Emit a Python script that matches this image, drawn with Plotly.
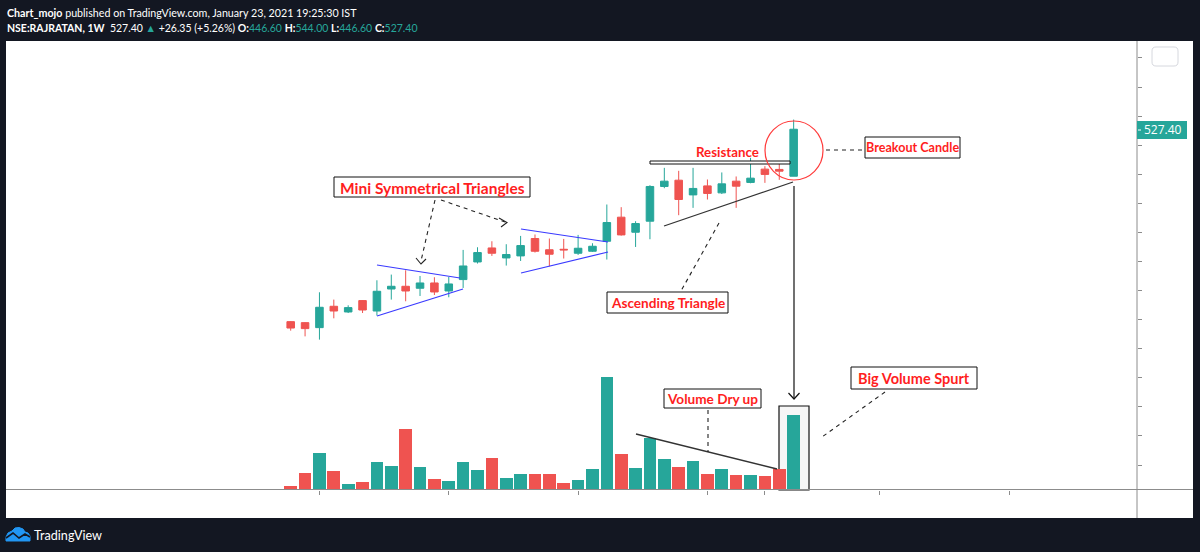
import plotly.graph_objects as go
import pandas as pd

W, H = 1200, 552

# ---------------- data ----------------
week_start = "2020-05-18"
n_weeks = 36
dates = pd.date_range(week_start, periods=n_weeks, freq="7D")

opens = [196.6, 194.9, 186.3, 223.0, 213.2, 232.8, 214.9, 252.7, 257.4, 254.0,
         263.1, 249.3, 268.9, 299.2, 323.3, 306.1, 309.6, 339.5, 320.2, 321.0,
         314.2, 317.6, 334.8, 376.2, 350.3, 369.3, 429.0, 439.8, 414.5, 430.0,
         418.0, 438.1, 435.9, 458.8, 458.3, 446.6]
highs = [197.5, 195.5, 247.1, 234.5, 224.7, 233.5, 267.7, 277.5, 284.9, 275.1,
         272.9, 273.4, 319.9, 324.5, 334.8, 329.7, 344.0, 346.4, 339.5, 338.8,
         345.7, 331.4, 398.0, 393.4, 369.3, 431.2, 461.0, 455.9, 461.0, 441.0,
         453.1, 446.2, 478.2, 463.9, 470.8, 544.0]
lows = [181.1, 171.3, 165.7, 202.3, 211.4, 211.4, 207.0, 234.5, 231.6, 240.7,
        242.4, 238.5, 254.5, 296.5, 309.6, 293.0, 300.9, 315.4, 291.8, 305.1,
        311.3, 316.4, 303.4, 344.5, 325.0, 338.3, 426.0, 379.6, 392.2, 406.6,
        416.0, 392.2, 434.5, 435.2, 440.4, 446.6]
closes = [185.6, 184.6, 221.3, 214.9, 220.7, 216.6, 248.8, 257.4, 249.3, 263.1,
          247.6, 261.4, 292.3, 315.4, 314.2, 312.0, 327.4, 317.6, 312.5, 320.0,
          322.8, 326.2, 367.0, 345.7, 365.3, 429.0, 438.1, 406.6, 425.6, 417.0,
          433.5, 429.5, 443.3, 449.7, 455.3, 527.4]
volumes = [8, 32, 72, 36, 10, 15, 55, 47, 121, 44,
           21, 17, 55, 39, 63, 23, 31, 31, 31, 12,
           18, 41, 225, 70, 42, 103, 61, 44, 57, 31,
           41, 29, 29, 27, 41, 149]

time_ticks = ["2020-06-01", "2020-08-03", "2020-10-05", "2020-12-07",
              "2021-01-04", "2021-03-01", "2021-05-03"]

last_price = "527.40"

UP = "#26a69a"
DOWN = "#ef5350"
RED_TXT = "#ff1e1e"
BLUE = "#3a3aff"
AXC = "#8c8c8c"

# ---------------- helpers (pixel -> paper) ----------------
def fx(x):
    return x / W


def fy(y):
    return 1 - y / H


def line(x0, y0, x1, y1, color="#222222", width=1.2, dash=None):
    d = dict(type="line", xref="paper", yref="paper",
             x0=fx(x0), y0=fy(y0), x1=fx(x1), y1=fy(y1),
             line=dict(color=color, width=width))
    if dash:
        d["line"]["dash"] = dash
    return d


def rect(x0, y0, x1, y1, fill="white", color="#111111", width=1, layer="above"):
    return dict(type="rect", xref="paper", yref="paper",
                x0=fx(x0), y0=fy(y0), x1=fx(x1), y1=fy(y1),
                fillcolor=fill, line=dict(color=color, width=width), layer=layer)


def path(points, color="#222222", width=1.2, fill=None, close=False):
    s = "M " + " L ".join(f"{fx(x):.5f},{fy(y):.5f}" for x, y in points)
    if close:
        s += " Z"
    d = dict(type="path", xref="paper", yref="paper", path=s,
             line=dict(color=color, width=width))
    if fill:
        d["fillcolor"] = fill
    return d


def text(x, y, s, size=13, color=RED_TXT, bold=True, anchor="center", family="Lato"):
    return dict(xref="paper", yref="paper", x=fx(x), y=fy(y), text=(f"<b>{s}</b>" if bold else s),
                showarrow=False, xanchor=anchor, yanchor="middle",
                font=dict(size=size, color=color, family=family))


vol_colors = [UP if c >= o else DOWN for o, c in zip(opens, closes)]

fig = go.Figure()
fig.add_trace(go.Bar(
    x=dates, y=volumes, yaxis="y2",
    marker=dict(color=vol_colors, line=dict(width=0)),
    width=7 * 86400000 * 0.88, hoverinfo="skip", showlegend=False))
fig.add_trace(go.Candlestick(
    x=dates, open=opens, high=highs, low=lows, close=closes,
    increasing=dict(line=dict(color=UP, width=1), fillcolor=UP),
    decreasing=dict(line=dict(color=DOWN, width=1), fillcolor=DOWN),
    whiskerwidth=0, showlegend=False))

# x range so that first candle sits at px 290.7, spacing 14.37 px/week
px_per_week = 14.37
first_px = 290.7
left_idx = (6 - first_px) / px_per_week
right_idx = (1137 - first_px) / px_per_week
x0 = dates[0] + pd.Timedelta(days=left_idx * 7)
x1 = dates[0] + pd.Timedelta(days=right_idx * 7)

shapes = []
# white chart canvas
shapes.append(rect(6, 41, 1193, 518, fill="white", color="white", width=0, layer="below"))
# highlight box around last volume bar
shapes.append(rect(779, 406, 809, 490, fill="#f6f6f6", color="#111111", width=1.2, layer="below"))
# axis separator lines
shapes.append(line(1137, 41, 1137, 518, color=AXC, width=1))
shapes.append(line(6, 489.5, 1193, 489.5, color=AXC, width=1))

# blue mini symmetrical triangles
shapes.append(line(377, 265, 460, 278, color=BLUE))
shapes.append(line(377, 316, 463, 289, color=BLUE))
shapes.append(line(521, 229, 608, 242, color=BLUE))
shapes.append(line(521, 273, 608, 252, color=BLUE))

# dashed pointers from mini-triangle label
shapes.append(line(435, 200, 421, 261, dash="4px,4px", width=1.1))
shapes.append(path([(416, 258), (421, 264), (426, 259)], width=1.1))
shapes.append(line(441, 200, 505, 222, dash="4px,4px", width=1.1))
shapes.append(path([(499, 218), (507, 222.5), (501, 227)], width=1.1))

# resistance double line
shapes.append(rect(650, 161, 790, 164, fill="white", color="#111111", width=1))
# ascending triangle support
shapes.append(line(664, 226, 793, 182, color="#333333", width=1.3))
shapes.append(line(719, 223, 681, 291, dash="4px,4px", width=1.1))

# breakout circle + pointer
shapes.append(dict(type="circle", xref="paper", yref="paper",
                   x0=fx(765), y0=fy(180), x1=fx(823), y1=fy(121),
                   line=dict(color="#ff3b3b", width=1.2)))
shapes.append(line(826, 150, 862, 150, dash="4px,4px", width=1.1))

# vertical arrow to volume
shapes.append(line(794, 186, 794, 398, color="#111111", width=1.2))
shapes.append(path([(788.5, 393), (794, 399), (799.5, 393)], color="#111111", width=1.2))

# volume dry-up line
shapes.append(line(636, 434, 777, 469, color="#333333", width=1.3))
shapes.append(line(708, 410, 708, 452, dash="4px,4px", width=1.1))
# big volume spurt pointer
shapes.append(line(885, 392, 822, 437, dash="4px,4px", width=1.1))

# label boxes
shapes.append(rect(334, 177, 530, 197))
shapes.append(rect(607, 292, 728, 313))
shapes.append(rect(865, 137, 960, 158))
shapes.append(rect(664, 389, 761, 408))
shapes.append(rect(851, 367, 977, 389))

# last price label on scale
shapes.append(rect(1137, 121, 1187, 139, fill=UP, color=UP, width=0))
shapes.append(line(1138, 130, 1141, 130, color="white", width=1))

# small rounded button top-right
r = 4
bx0, by0, bx1, by1 = 1152, 47, 1178, 66
btn = (f"M {fx(bx0 + r):.5f},{fy(by0):.5f} L {fx(bx1 - r):.5f},{fy(by0):.5f} "
       f"Q {fx(bx1):.5f},{fy(by0):.5f} {fx(bx1):.5f},{fy(by0 + r):.5f} "
       f"L {fx(bx1):.5f},{fy(by1 - r):.5f} Q {fx(bx1):.5f},{fy(by1):.5f} {fx(bx1 - r):.5f},{fy(by1):.5f} "
       f"L {fx(bx0 + r):.5f},{fy(by1):.5f} Q {fx(bx0):.5f},{fy(by1):.5f} {fx(bx0):.5f},{fy(by1 - r):.5f} "
       f"L {fx(bx0):.5f},{fy(by0 + r):.5f} Q {fx(bx0):.5f},{fy(by0):.5f} {fx(bx0 + r):.5f},{fy(by0):.5f} Z")
shapes.append(dict(type="path", xref="paper", yref="paper", path=btn,
                   line=dict(color="#d6d8de", width=1), fillcolor="white"))

# TradingView logo (approximation)
shapes.append(path([(6, 541), (6, 537), (8, 533), (12, 531), (15, 528), (19, 527.5),
                    (23, 529), (25, 532), (28, 533), (30, 536), (30, 541)],
                   color="#2196f3", width=1, fill="#2196f3", close=True))
shapes.append(path([(6, 538), (13, 533), (19, 538), (25, 534), (30, 537)],
                   color="#131722", width=1.6))

annotations = []
annotations.append(text(432, 187.5, "Mini Symmetrical Triangles", size=15.5))
annotations.append(text(727.5, 152, "Resistance", size=13.3))
annotations.append(text(912.5, 147.5, "Breakout Candle", size=12.6))
annotations.append(text(667.5, 302.5, "Ascending Triangle", size=13.6))
annotations.append(text(712.5, 398.5, "Volume Dry up", size=13.6))
annotations.append(text(914, 378, "Big Volume Spurt", size=14.5))
annotations.append(text(1163, 130, last_price, size=12, color="white", bold=False, family="Open Sans"))

HF = "Lato, Roboto, sans-serif"
annotations.append(text(5, 12.5,
                        "<b>Chart_mojo</b> published on TradingView.com, January 23, 2021 19:25:30 IST",
                        size=10.7, color="white", bold=False, anchor="left", family=HF))
T = "#26a69a"
annotations.append(text(5, 27.5,
                        "<b>NSE:RAJRATAN, 1W</b>  527.40 "
                        f"<span style='color:{T}'>▲</span> +26.35 (+5.26%) "
                        f"<b>O:</b><span style='color:{T}'>446.60</span> "
                        f"<b>H:</b><span style='color:{T}'>544.00</span> "
                        f"<b>L:</b><span style='color:{T}'>446.60</span> "
                        f"<b>C:</b><span style='color:{T}'>527.40</span>",
                        size=10.5, color="white", bold=False, anchor="left", family=HF))
annotations.append(text(32, 535, "TradingView", size=12.6, color="white", bold=False,
                        anchor="left", family="Lato"))

fig.update_layout(
    width=W, height=H,
    margin=dict(l=0, r=0, t=0, b=0),
    paper_bgcolor="#131722",
    plot_bgcolor="rgba(0,0,0,0)",
    showlegend=False,
    bargap=0,
    boxgap=0.25,
    xaxis=dict(domain=[fx(6), fx(1137)], range=[x0, x1], type="date",
               showgrid=False, zeroline=False, showline=False,
               showticklabels=False, ticks="outside", ticklen=4, tickwidth=1,
               tickcolor=AXC, tickmode="array", tickvals=time_ticks,
               rangeslider=dict(visible=False), fixedrange=True),
    yaxis=dict(domain=[fy(489.5), fy(41)], range=[-92.0, 679.1], side="right",
               showgrid=False, zeroline=False, showline=False,
               showticklabels=False, ticks="outside", ticklen=4, tickwidth=1,
               tickcolor=AXC, tick0=0, dtick=50, fixedrange=True),
    yaxis2=dict(overlaying="y", range=[0, 896], visible=False, fixedrange=True),
    shapes=shapes,
    annotations=annotations,
)

fig.write_html(
    "out.html",
    config={"displayModeBar": False},
    post_script="document.body.style.margin='0px';document.body.style.overflow='hidden';",
)
